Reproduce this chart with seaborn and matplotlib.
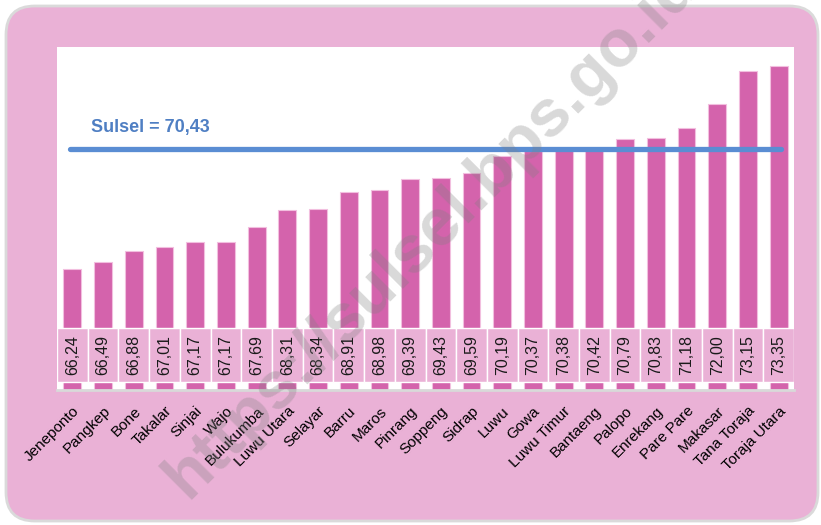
import matplotlib
matplotlib.use("Agg")
import matplotlib.pyplot as plt
import matplotlib.transforms as mtransforms
from matplotlib.patches import FancyBboxPatch, Rectangle
import pandas as pd
import seaborn as sns

# -----------------------------
# Data
# -----------------------------
kabupaten = ["Jeneponto", "Pangkep", "Bone", "Takalar", "Sinjai", "Wajo",
             "Bulukumba", "Luwu Utara", "Selayar", "Barru", "Maros", "Pinrang",
             "Soppeng", "Sidrap", "Luwu", "Gowa", "Luwu Timur", "Bantaeng",
             "Palopo", "Enrekang", "Pare Pare", "Makasar", "Tana Toraja",
             "Toraja Utara"]
nilai = [66.24, 66.49, 66.88, 67.01, 67.17, 67.17, 67.69, 68.31, 68.34, 68.91,
         68.98, 69.39, 69.43, 69.59, 70.19, 70.37, 70.38, 70.42, 70.79, 70.83,
         71.18, 72.00, 73.15, 73.35]
sulsel = 70.43

df = pd.DataFrame({"kabupaten": kabupaten, "nilai": nilai})

PINK_BG = "#EAB1D6"
BAR = "#D463AC"
BLUE = "#5A8DD3"

sns.set_style("white")
plt.rcParams["font.family"] = ["Liberation Sans", "DejaVu Sans"]

fig = plt.figure(figsize=(8.21, 5.25), dpi=100)
fig.patch.set_facecolor("white")

# rounded pink frame
W, H = 821, 525
frame = FancyBboxPatch((6 / W, 4 / H), 812 / W, 515 / H,
                       boxstyle="round,pad=0,rounding_size=0.035",
                       transform=fig.transFigure, facecolor=PINK_BG,
                       edgecolor="#DADADA", linewidth=2, mutation_aspect=W / H,
                       zorder=0.5)
fig.patches.append(frame)

ax = fig.add_axes([57 / W, (H - 390) / H, 737 / W, 343 / H])
ax.set_zorder(2)
ax.set_facecolor("white")

sns.barplot(data=df, x="kabupaten", y="nilai", color=BAR, width=0.58,
            edgecolor="#F2BFDF", linewidth=0.8, saturation=1, ax=ax, zorder=2)

ax.set_ylim(62, 74)
ax.set_xlim(-0.5, len(kabupaten) - 0.5)
ax.set_xlabel("")
ax.set_ylabel("")
ax.set_yticks([])
for s in ["top", "left", "right"]:
    ax.spines[s].set_visible(False)
ax.spines["bottom"].set_color("#D9D9D9")
ax.spines["bottom"].set_linewidth(2)

# Sulsel average line
ax.axhline(sulsel, xmin=0.018, xmax=0.982, color=BLUE, linewidth=3.8,
           solid_capstyle="round", zorder=3)
ax.text(0.046, 0.765, "Sulsel = " + f"{sulsel:.2f}".replace(".", ","),
        transform=ax.transAxes, ha="left", va="center", fontsize=13,
        fontweight="bold", color="#4F7FC3")

# value table inside the bars
trans = mtransforms.blended_transform_factory(ax.transData, ax.transAxes)
for i, v in enumerate(nilai):
    ax.add_patch(Rectangle((i - 0.5, 0.023), 1, 0.158, transform=trans,
                           facecolor=PINK_BG, edgecolor="white",
                           linewidth=1, zorder=4))
    ax.text(i, 0.102, f"{v:.2f}".replace(".", ","), transform=trans,
            rotation=90, ha="center", va="center", fontsize=11.5,
            color="#1a1a1a", zorder=5)

ax.tick_params(axis="x", length=0, pad=10)
ax.set_xticks(range(len(kabupaten)))
ax.set_xticklabels(kabupaten, rotation=45, ha="right", va="top",
                   rotation_mode="anchor", fontsize=11, color="black")

# watermark
fig.text(432 / W, 1 - 232 / H, "https://sulsel.bps.go.id", rotation=45,
         ha="center", va="center", fontsize=48, fontweight="bold",
         color="grey", alpha=0.3, zorder=10)

fig.savefig("out.png", dpi=100)
